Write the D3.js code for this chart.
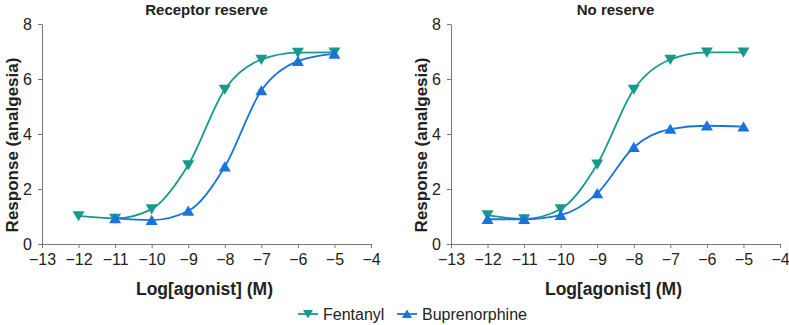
<!DOCTYPE html>
<html>
<head>
<meta charset="utf-8">
<script src="https://cdn.jsdelivr.net/npm/d3@7"></script>
<style>
  body { margin: 0; background: #fff; }
  svg text { font-family: "Liberation Sans", Arial, sans-serif; fill: #222; }
</style>
</head>
<body>
<div id="chart"></div>
<script>
// log concentrations
var logDose = [-12, -11, -10, -9, -8, -7, -6, -5];

// receptor reserve panel
var fentanylReserve = [1.02, 0.93, 1.27, 2.87, 5.62, 6.71, 6.96, 6.97];
var bupReserve = [null, 0.93, 0.87, 1.2, 2.81, 5.58, 6.65, 6.91];

// no reserve panel
var fentanylNoReserve = [1.05, 0.91, 1.27, 2.9, 5.62, 6.71, 6.97, 6.97];
var bupNoReserve = [0.9, 0.9, 1.05, 1.84, 3.52, 4.18, 4.3, 4.27];

var xTicks = [-13, -12, -11, -10, -9, -8, -7, -6, -5, -4];
var yTicks = [0, 2, 4, 6, 8];

var panelTitles = ["Receptor reserve", "No reserve"];
var seriesNames = ["Fentanyl", "Buprenorphine"];
var teal = "#17998c", blue = "#1874dc";

var width = 789, height = 325;

var svg = d3.select("#chart")
	.append("svg")
	.attr("width", width)
	.attr("height", height);

var panels = [
	{ left: 42, title: panelTitles[0], fen: fentanylReserve, bup: bupReserve },
	{ left: 451, title: panelTitles[1], fen: fentanylNoReserve, bup: bupNoReserve }
];

var plotW = 329, plotTop = 24, plotBottom = 244;

function triangle(g, x, y, down, color, s) {
	var pts = down
		? [[x - s, y - s * 0.8], [x + s, y - s * 0.8], [x, y + s * 0.9]]
		: [[x - s, y + s * 0.8], [x + s, y + s * 0.8], [x, y - s * 0.9]];
	g.append("path")
		.attr("d", "M" + pts.join("L") + "Z")
		.attr("fill", color);
}

panels.forEach(function(p) {
	var x = d3.scaleLinear().domain([-13, -4]).range([p.left, p.left + plotW]);
	var y = d3.scaleLinear().domain([0, 8]).range([plotBottom, plotTop]);

	var xAxis = svg.append("g")
		.attr("transform", "translate(0," + plotBottom + ")")
		.call(d3.axisBottom(x).tickValues(xTicks).tickSize(4).tickSizeOuter(0)
			.tickFormat(function(d) { return "\u2212" + Math.abs(d); }));
	var yAxis = svg.append("g")
		.attr("transform", "translate(" + p.left + ",0)")
		.call(d3.axisLeft(y).tickValues(yTicks).tickSize(4).tickPadding(6).tickSizeOuter(0));

	[xAxis, yAxis].forEach(function(a) {
		a.attr("font-size", null).attr("font-family", null);
		a.select(".domain").attr("stroke", "#777");
		a.selectAll(".tick line").attr("stroke", "#777");
		a.selectAll(".tick text").style("font-size", "16px").attr("fill", "#222");
	});
	xAxis.selectAll(".tick text").attr("dy", "0.88em");

	svg.append("text")
		.attr("x", p.left + plotW / 2).attr("y", 15)
		.attr("text-anchor", "middle")
		.style("font-size", "15px").style("font-weight", "bold")
		.text(p.title);

	svg.append("text")
		.attr("x", p.left + plotW / 2 - 2).attr("y", 295)
		.attr("text-anchor", "middle")
		.style("font-size", "17.5px").style("font-weight", "bold")
		.text("Log[agonist] (M)");

	svg.append("text")
		.attr("transform", "translate(" + (p.left - 24) + "," + 145 + ") rotate(-90)")
		.attr("text-anchor", "middle")
		.style("font-size", "17px").style("font-weight", "bold")
		.text("Response (analgesia)");

	var line = d3.line()
		.x(function(d) { return x(d[0]); })
		.y(function(d) { return y(d[1]); })
		.curve(d3.curveMonotoneX);

	[[p.fen, teal, true], [p.bup, blue, false]].forEach(function(s) {
		var pts = logDose.map(function(d, i) { return [d, s[0][i]]; })
			.filter(function(d) { return d[1] != null; });
		svg.append("path")
			.datum(pts)
			.attr("fill", "none")
			.attr("stroke", s[1])
			.attr("stroke-width", 1.8)
			.attr("d", line);
		var g = svg.append("g");
		pts.forEach(function(d) { triangle(g, x(d[0]), y(d[1]), s[2], s[1], 6); });
	});
});

// legend
var legend = svg.append("g");
[[298, teal, true, seriesNames[0]], [397, blue, false, seriesNames[1]]].forEach(function(l) {
	legend.append("line")
		.attr("x1", l[0]).attr("x2", l[0] + 20)
		.attr("y1", 314).attr("y2", 314)
		.attr("stroke", l[1]).attr("stroke-width", 1.8);
	triangle(legend, l[0] + 10, 314, l[2], l[1], 5);
	legend.append("text")
		.attr("x", l[0] + 25).attr("y", 320)
		.style("font-size", "16px")
		.text(l[3]);
});
</script>
</body>
</html>
